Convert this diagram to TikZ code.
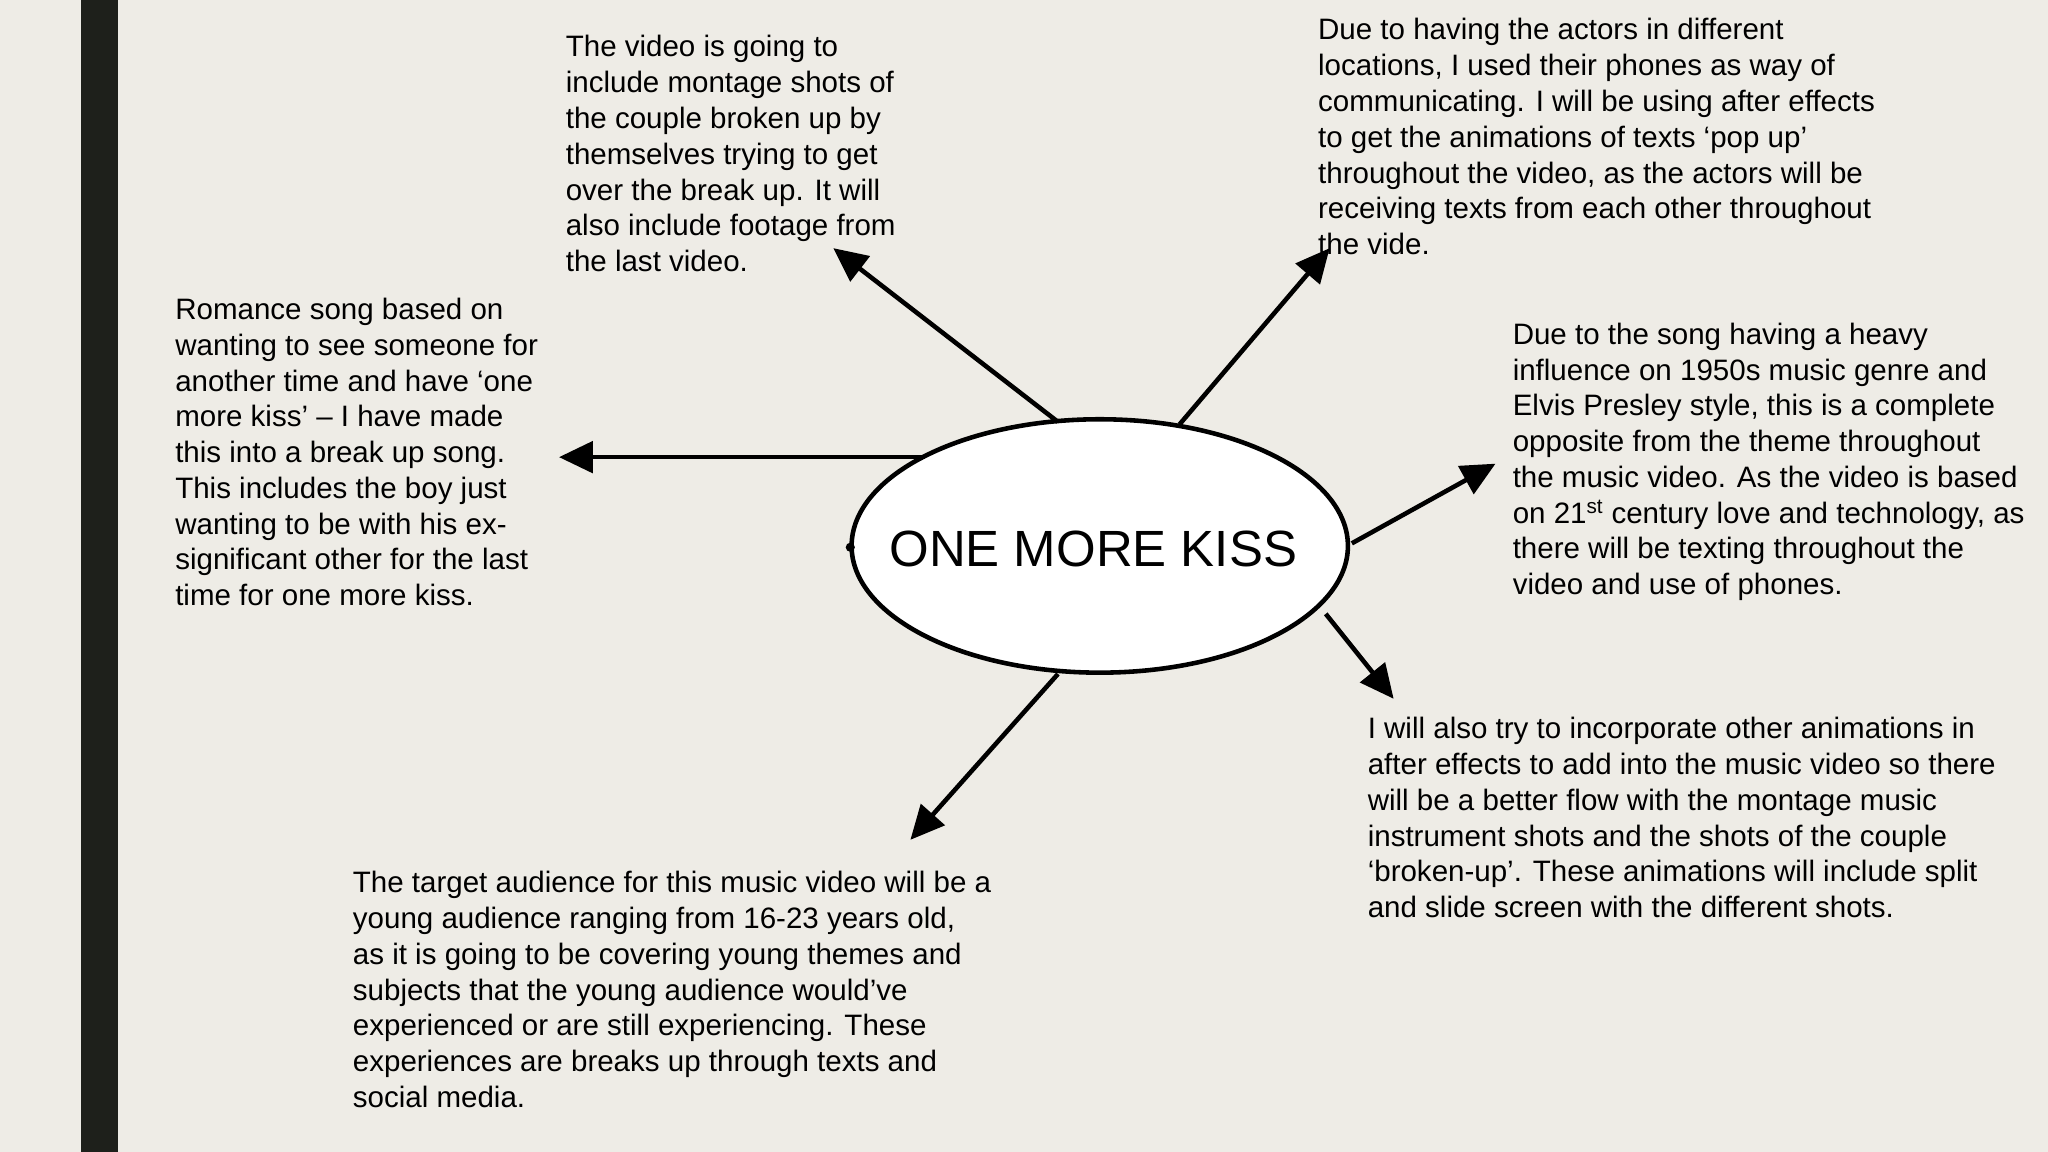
\documentclass[tikz,border=0pt]{standalone}
\usepackage{fontspec}
\setmainfont{Liberation Sans}
\usetikzlibrary{arrows.meta,shapes.geometric}
\definecolor{bg}{HTML}{EEECE6}
\definecolor{bar}{HTML}{1E201B}
\tikzset{
 txt/.style={anchor=north west,align=left,inner sep=0pt,font=\fontsize{22.6}{27.4}\selectfont},
 arr/.style={line width=3.5pt,-{Triangle[length=26pt,width=24pt]}}
}
\begin{document}
\begin{tikzpicture}[x=1pt,y=-1pt]
\useasboundingbox (0,0) rectangle (1568,882);
\fill[bg] (0,0) rectangle (1568,882);
\fill[bar] (62,0) rectangle (90,882);
\fill[white,draw=black,line width=3.5pt] (842,418) ellipse [x radius=190pt,y radius=97pt];
\node[inner sep=0pt,font=\fontsize{39}{44}\selectfont] (c) at (837,420) {ONE MORE KISS};
\fill (651,419) circle (3.5pt);
\node[txt] (t1) at (433,27) {The video is going to\\include montage shots of\\the couple broken up by\\themselves trying to get\\over the break up. It will\\also include footage from\\the last video.};
\node[txt] (t2) at (1009,14) {Due to having the actors in different\\locations, I used their phones as way of\\communicating. I will be using after effects\\to get the animations of texts ‘pop up’\\throughout the video, as the actors will be\\receiving texts from each other throughout\\the vide.};
\node[txt] (t3) at (1158,247) {Due to the song having a heavy\\influence on 1950s music genre and\\Elvis Presley style, this is a complete\\opposite from the theme throughout\\the music video. As the video is based\\on 21\textsuperscript{st} century love and technology, as\\there will be texting throughout the\\video and use of phones.};
\node[txt] (t4) at (134,228) {Romance song based on\\wanting to see someone for\\another time and have ‘one\\more kiss’ – I have made\\this into a break up song.\\This includes the boy just\\wanting to be with his ex-\\significant other for the last\\time for one more kiss.};
\node[txt] (t5) at (1047,549) {I will also try to incorporate other animations in\\after effects to add into the music video so there\\will be a better flow with the montage music\\instrument shots and the shots of the couple\\‘broken-up’. These animations will include split\\and slide screen with the different shots.};
\node[txt] (t6) at (270,667) {The target audience for this music video will be a\\young audience ranging from 16-23 years old,\\as it is going to be covering young themes and\\subjects that the young audience would’ve\\experienced or are still experiencing. These\\experiences are breaks up through texts and\\social media.};
\coordinate (a1) at (638,190);
\coordinate (a2) at (1018,190);
\coordinate (a3) at (428,350);
\coordinate (a4) at (1145,355);
\coordinate (a5) at (1067,535);
\coordinate (a6) at (697,643);
\draw[arr] (810,323) -- (a1);
\draw[arr] (903,325) -- (a2);
\draw[arr] (708,350) -- (a3);
\draw[arr] (1035,416) -- (a4);
\draw[arr] (1015,470) -- (a5);
\draw[arr] (810,516) -- (a6);
\end{tikzpicture}
\end{document}
